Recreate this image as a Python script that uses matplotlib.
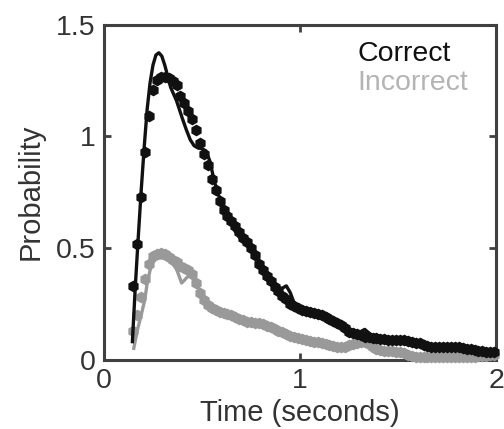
import numpy as np
import matplotlib
matplotlib.use('Agg')
import matplotlib.pyplot as plt

plt.rcParams['font.family'] = ['Liberation Sans', 'DejaVu Sans']

# time bins (s) for the observed data
time_bins = np.round(np.arange(0.15, 2.0, 0.02), 3)

correct_data = [
    0.33, 0.52, 0.73, 0.93, 1.09, 1.21, 1.255, 1.265, 1.268, 1.262,
    1.25, 1.23, 1.18, 1.15, 1.115, 1.08, 1.03, 0.97, 0.92, 0.87,
    0.81, 0.76, 0.71, 0.67, 0.645, 0.62, 0.60, 0.57, 0.545, 0.525,
    0.50, 0.47, 0.43, 0.40, 0.375, 0.35, 0.325, 0.305, 0.285, 0.27,
    0.25, 0.24, 0.23, 0.222, 0.218, 0.214, 0.21, 0.205, 0.20, 0.19,
    0.18, 0.172, 0.163, 0.155, 0.14, 0.125, 0.117, 0.113, 0.11, 0.10,
    0.10, 0.098, 0.096, 0.094, 0.092, 0.089, 0.087, 0.087, 0.087, 0.087,
    0.085, 0.08, 0.075, 0.072, 0.066, 0.06, 0.056, 0.056, 0.056, 0.056,
    0.056, 0.056, 0.055, 0.055, 0.052, 0.049, 0.047, 0.044, 0.04, 0.036,
    0.034, 0.033, 0.032,
]

incorrect_data = [
    0.13, 0.20, 0.28, 0.36, 0.43, 0.465, 0.475, 0.478, 0.475, 0.46,
    0.445, 0.435, 0.42, 0.41, 0.40, 0.385, 0.345, 0.30, 0.265, 0.245,
    0.23, 0.22, 0.213, 0.208, 0.202, 0.198, 0.19, 0.182, 0.175, 0.168,
    0.166, 0.165, 0.163, 0.158, 0.152, 0.145, 0.138, 0.13, 0.122, 0.113,
    0.106, 0.10, 0.095, 0.09, 0.087, 0.084, 0.08, 0.077, 0.074, 0.07,
    0.066, 0.062, 0.058, 0.056, 0.058, 0.063, 0.068, 0.073, 0.077, 0.078,
    0.07, 0.056, 0.046, 0.042, 0.04, 0.038, 0.036, 0.034, 0.032, 0.028,
    0.022, 0.016, 0.012, 0.011, 0.011, 0.011, 0.011, 0.011, 0.011, 0.011,
    0.011, 0.011, 0.011, 0.011, 0.011, 0.012, 0.012, 0.013, 0.014, 0.015,
    0.016, 0.018, 0.02,
]

# model fits
correct_fit_t = [0.145, 0.16, 0.175, 0.19, 0.205, 0.22, 0.235, 0.25, 0.265, 0.28,
                 0.295, 0.31, 0.325, 0.34, 0.355, 0.37, 0.385, 0.40, 0.42, 0.44,
                 0.46, 0.48, 0.50, 0.52, 0.54, 0.56, 0.58, 0.60, 0.63, 0.665,
                 0.70, 0.75, 0.80, 0.85, 0.89, 0.91, 0.93, 0.95, 0.97, 1.0,
                 1.05, 1.1, 1.15, 1.2, 1.25, 1.29, 1.31, 1.33, 1.35, 1.37,
                 1.45, 1.55, 1.65, 1.75, 1.85, 1.95, 2.0]
correct_fit = [0.08, 0.33, 0.55, 0.76, 0.95, 1.12, 1.24, 1.32, 1.365, 1.375,
               1.36, 1.32, 1.27, 1.22, 1.19, 1.16, 1.12, 1.08, 1.03, 0.985,
               0.958, 0.948, 0.945, 0.935, 0.89, 0.81, 0.745, 0.705, 0.648, 0.58,
               0.536, 0.50, 0.43, 0.365, 0.32, 0.32, 0.33, 0.30, 0.253, 0.225,
               0.215, 0.20, 0.18, 0.16, 0.13, 0.12, 0.125, 0.135, 0.12, 0.10,
               0.09, 0.085, 0.06, 0.055, 0.048, 0.035, 0.03]

incorrect_fit_t = [0.152, 0.17, 0.19, 0.208, 0.22, 0.235, 0.25, 0.265, 0.28, 0.30,
                   0.32, 0.35, 0.37, 0.385, 0.396, 0.41, 0.425, 0.445, 0.47, 0.50,
                   0.55, 0.6, 0.7, 0.8, 0.9, 1.0, 1.1, 1.2, 1.3, 1.35,
                   1.4, 1.5, 1.6, 1.8, 2.0]
incorrect_fit = [0.05, 0.13, 0.20, 0.267, 0.34, 0.40, 0.435, 0.45, 0.455, 0.455,
                 0.45, 0.43, 0.405, 0.37, 0.343, 0.355, 0.37, 0.38, 0.35, 0.28,
                 0.225, 0.208, 0.178, 0.16, 0.125, 0.09, 0.075, 0.056, 0.075, 0.065,
                 0.04, 0.03, 0.012, 0.01, 0.015]

black = '#111111'
gray = '#999999'
axis_color = '#404040'

fig = plt.figure(figsize=(5.04, 4.29), dpi=100)
ax = fig.add_axes([0.2063, 0.162, 0.778, 0.780])

ax.plot(incorrect_fit_t, incorrect_fit, color=gray, lw=2.4, zorder=2)
ax.plot(time_bins, incorrect_data, 'h', color=gray, ms=8.5, mew=0, zorder=3, clip_on=False)
ax.plot(correct_fit_t, correct_fit, color=black, lw=2.4, zorder=4)
ax.plot(time_bins, correct_data, 'h', color=black, ms=8.5, mew=0, zorder=5, clip_on=False)

ax.set_xlim(0, 2)
ax.set_ylim(0, 1.5)
ax.set_xticks([0, 1, 2])
ax.set_xticklabels(['0', '1', '2'])
ax.set_yticks([0, 0.5, 1, 1.5])
ax.set_yticklabels(['0', '0.5', '1', '1.5'])

fs = 20.5
ax.tick_params(direction='in', top=True, right=True, length=5, width=2,
               color=axis_color, labelsize=fs, labelcolor='#333333', pad=6)
for s in ax.spines.values():
    s.set_color(axis_color)
    s.set_linewidth(2.2)

ax.set_xlabel('Time (seconds)', fontsize=21, color='#333333', labelpad=4)
ax.set_ylabel('Probability', fontsize=21, color='#333333', labelpad=8)

ax.text(0.647, 0.912, 'Correct', transform=ax.transAxes, fontsize=fs,
        color=black, va='center', ha='left')
ax.text(0.647, 0.826, 'Incorrect', transform=ax.transAxes, fontsize=fs,
        color='#b4b4b4', va='center', ha='left')

fig.savefig('out.png', dpi=100)
